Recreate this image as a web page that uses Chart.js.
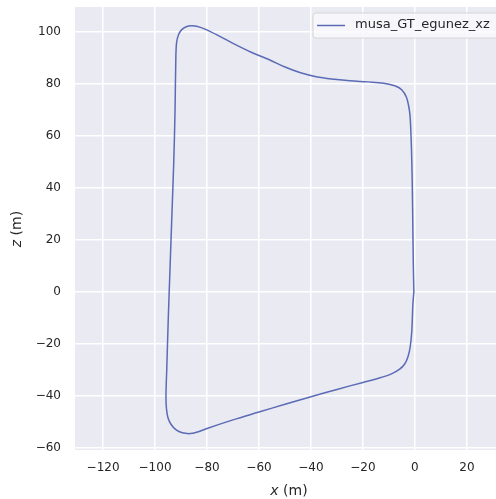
<!DOCTYPE html>
<html>
<head>
<meta charset="utf-8">
<script src="https://cdn.jsdelivr.net/npm/chart.js@4.4.1/dist/chart.umd.min.js"></script>
<style>
html,body{margin:0;padding:0;background:#fff;}
#wrap{width:496px;height:499px;position:relative;}
</style>
</head>
<body>
<div id="wrap"><canvas id="c"></canvas></div>
<script>
const seriesLabel = 'musa_GT_egunez_xz';
const xs = [-0.4,-0.6,-0.8,-1.0,-1.2,-1.5,-1.9,-2.5,-3.3,-5.0,-7.5,-12,-18,-25,-31,-38,-44,-50,-56,-63,-70,-76,-81,-84,-86,-88,-89.8,-91,-91.7,-92,-92.3,-92.8,-93.5,-94.2,-94.9,-95.5,-95.8,-95.6,-95,-93.8,-92,-89.5,-86.5,-84,-80,-70,-60,-50,-40,-30,-20,-14,-9,-6,-4,-2.7,-1.8,-1.2,-0.8,-0.4];
const zs = [0,10,25,40,50,60,68,72,75,77.7,79.2,80.3,80.8,81.2,81.8,82.8,84.3,86.5,89.3,92.2,95.6,98.8,101.2,102.2,102.4,102,100.8,98.8,96,90,70,50,30,10,-10,-30,-40,-45,-48.5,-51,-53,-54.2,-54.5,-54,-52.5,-49.2,-46.2,-43.2,-40.3,-37.5,-34.8,-33.2,-31.5,-29.8,-27.8,-25,-21,-15,-5,0];
const xTicks = [-120,-100,-80,-60,-40,-20,0,20];
const zTicks = [-60,-40,-20,0,20,40,60,80,100];
const xLabelParts = ['x',' (m)'];
const zLabelParts = ['z',' (m)'];

const lineColor = '#5b6bb6';
const FONT = "'DejaVu Sans', sans-serif";

const bgPlugin = {
  id: 'bg',
  beforeDraw(chart){
    const {ctx, chartArea:a} = chart;
    ctx.save();
    ctx.fillStyle = '#EAEAF2';
    ctx.fillRect(a.left, a.top, a.right - a.left, a.bottom - a.top);
    ctx.restore();
  }
};

function drawMixed(ctx, parts, x, y){
  ctx.font = 'italic 14px ' + FONT;
  const w0 = ctx.measureText(parts[0]).width;
  ctx.font = '14px ' + FONT;
  const w1 = ctx.measureText(parts[1]).width;
  const start = x - (w0 + w1)/2;
  ctx.textAlign = 'left';
  ctx.textBaseline = 'middle';
  ctx.font = 'italic 14px ' + FONT;
  ctx.fillText(parts[0], start, y);
  ctx.font = '14px ' + FONT;
  ctx.fillText(parts[1], start + w0, y);
}

const decoPlugin = {
  id: 'deco',
  afterDraw(chart){
    const {ctx} = chart;
    ctx.save();
    ctx.fillStyle = '#262626';
    drawMixed(ctx, xLabelParts, 289, 491);
    ctx.save();
    ctx.translate(17, 229);
    ctx.rotate(-Math.PI/2);
    drawMixed(ctx, zLabelParts, 0, 0);
    ctx.restore();
    const bx = 313, by = 13, bw = 190, bh = 25, r = 3;
    ctx.beginPath();
    ctx.moveTo(bx + r, by);
    ctx.lineTo(bx + bw - r, by);
    ctx.quadraticCurveTo(bx + bw, by, bx + bw, by + r);
    ctx.lineTo(bx + bw, by + bh - r);
    ctx.quadraticCurveTo(bx + bw, by + bh, bx + bw - r, by + bh);
    ctx.lineTo(bx + r, by + bh);
    ctx.quadraticCurveTo(bx, by + bh, bx, by + bh - r);
    ctx.lineTo(bx, by + r);
    ctx.quadraticCurveTo(bx, by, bx + r, by);
    ctx.closePath();
    ctx.fillStyle = 'rgba(250,250,252,0.8)';
    ctx.fill();
    ctx.strokeStyle = '#d6d6d6';
    ctx.lineWidth = 1;
    ctx.stroke();
    ctx.beginPath();
    ctx.moveTo(317, 25.5);
    ctx.lineTo(345, 25.5);
    ctx.strokeStyle = lineColor;
    ctx.lineWidth = 1.5;
    ctx.stroke();
    ctx.fillStyle = '#262626';
    ctx.font = '13px ' + FONT;
    ctx.textAlign = 'left';
    ctx.textBaseline = 'middle';
    ctx.fillText(chart.data.datasets[0].label, 355, 25);
    ctx.restore();
  }
};

const fmt = v => String(v).replace('-', '\u2212');

new Chart(document.getElementById('c'), {
  type: 'scatter',
  data: {
    datasets: [{
      label: seriesLabel,
      data: xs.map((x, i) => ({x: x, y: zs[i]})),
      showLine: true,
      borderColor: lineColor,
      borderWidth: 1.5,
      pointRadius: 0,
      tension: 0.35,
      fill: false
    }]
  },
  options: {
    responsive: true,
    maintainAspectRatio: false,
    animation: false,
    layout: {padding: {top: 7, left: 0, right: 0, bottom: 0}},
    plugins: {legend: {display: false}, tooltip: {enabled: false}},
    scales: {
      x: {
        type: 'linear', min: -130.8, max: 31.2,
        afterBuildTicks: s => { s.ticks = xTicks.map(v => ({value: v})); },
        afterFit: s => { s.height = 49; s.paddingLeft = 0; s.paddingRight = 0; },
        grid: {color: '#ffffff', lineWidth: 1.5, drawTicks: false},
        border: {display: false},
        ticks: {padding: 11, color: '#262626', font: {family: FONT, size: 12}, maxRotation: 0, callback: v => fmt(v)}
      },
      y: {
        type: 'linear', min: -60.8, max: 109.6,
        afterBuildTicks: s => { s.ticks = zTicks.map(v => ({value: v})); },
        afterFit: s => { s.width = 75; s.paddingTop = 0; s.paddingBottom = 0; },
        grid: {color: '#ffffff', lineWidth: 1.5, drawTicks: false},
        border: {display: false},
        ticks: {padding: 14, color: '#262626', font: {family: FONT, size: 12}, callback: v => fmt(v)}
      }
    }
  },
  plugins: [bgPlugin, decoPlugin]
});
</script>
</body>
</html>
